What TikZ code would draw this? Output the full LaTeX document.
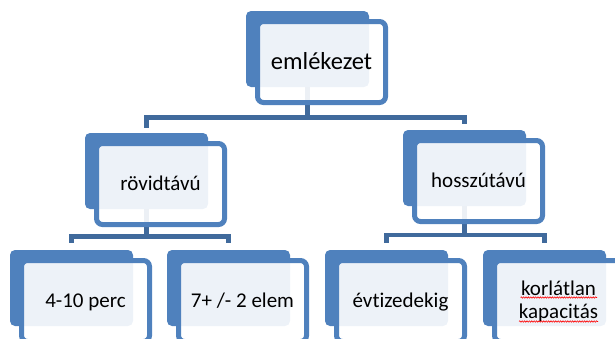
\documentclass[tikz,border=0pt]{standalone}
\usepackage{fontspec}
\setmainfont{Carlito}[Ligatures=NoCommon]
\usetikzlibrary{decorations.pathmorphing}
\pgfdeclarelayer{bg}
\pgfsetlayers{bg,main}
\definecolor{boxblue}{RGB}{79,129,189}
\definecolor{connblue}{RGB}{64,106,156}
\tikzset{
 backbox/.style={fill=boxblue, draw=none, rounded corners=5pt, minimum width=123pt, minimum height=76pt, inner sep=0pt},
 frontbox/.style={draw=boxblue, line width=5pt, fill=white, fill opacity=0.9, text opacity=1, rounded corners=6pt, minimum width=128pt, minimum height=81pt, inner sep=0pt, font=\fontsize{21pt}{23pt}\selectfont},
 oneline/.style={text height=17pt, text depth=4pt},
 toptext/.style={font=\fontsize{24.5pt}{27pt}\selectfont, text height=20pt, text depth=5pt},
 conn/.style={draw=connblue, line width=4.5pt},
 spell/.style={draw=red, line width=0.6pt, decorate, decoration={snake, amplitude=0.7pt, segment length=2.4pt}}
}
\begin{document}
\begin{tikzpicture}[x=1pt,y=-1pt]
\useasboundingbox (0,0) rectangle (615,338);
% top
\node[backbox] (m-b) at (307.5,49) {};
\node[frontbox,toptext] (m) at (321.5,62) {emlékezet};
% level 2
\node[backbox] (r-b) at (146.5,171) {};
\node[frontbox,oneline] (r) at (160.5,184) {rövidtávú};
\node[backbox] (h-b) at (464.5,168) {};
\node[frontbox,oneline] (h) at (478.5,181) {hosszútávú};
% level 3
\node[backbox] (a-b) at (71.5,288) {};
\node[frontbox,oneline] (a) at (85.5,301) {4-10 perc};
\node[backbox] (b-b) at (228.5,288) {};
\node[frontbox,oneline] (b) at (242.5,301) {7+ /- 2 elem};
\node[backbox] (c-b) at (386.5,288) {};
\node[frontbox,oneline] (c) at (400.5,301) {évtizedekig};
\node[backbox] (d-b) at (544.5,288) {};
\node[frontbox,align=center] (d) at (558.5,301) {korlátlan\\kapacitás};
% spelling underline
\draw[spell] (520.5,297.5) -- (597,297.5);
\draw[spell] (519,321.5) -- (598,321.5);
% connectors
\begin{pgfonlayer}{bg}
\coordinate (j1) at (307.5,117.5);
\draw[conn] (m-b.center) -- (j1);
\draw[conn] ([yshift=5pt]r-b.north) |- (j1) -| ([yshift=6pt]h-b.north);
\coordinate (j2) at (146.5,236.5);
\draw[conn] (r-b.center) -- (j2);
\draw[conn] ([yshift=7pt]a-b.north) |- (j2) -| ([yshift=7pt]b-b.north);
\coordinate (j3) at (464.5,235);
\draw[conn] (h-b.center) -- (j3);
\draw[conn] ([yshift=7pt]c-b.north) |- (j3) -| ([yshift=7pt]d-b.north);
\end{pgfonlayer}
\end{tikzpicture}
\end{document}
